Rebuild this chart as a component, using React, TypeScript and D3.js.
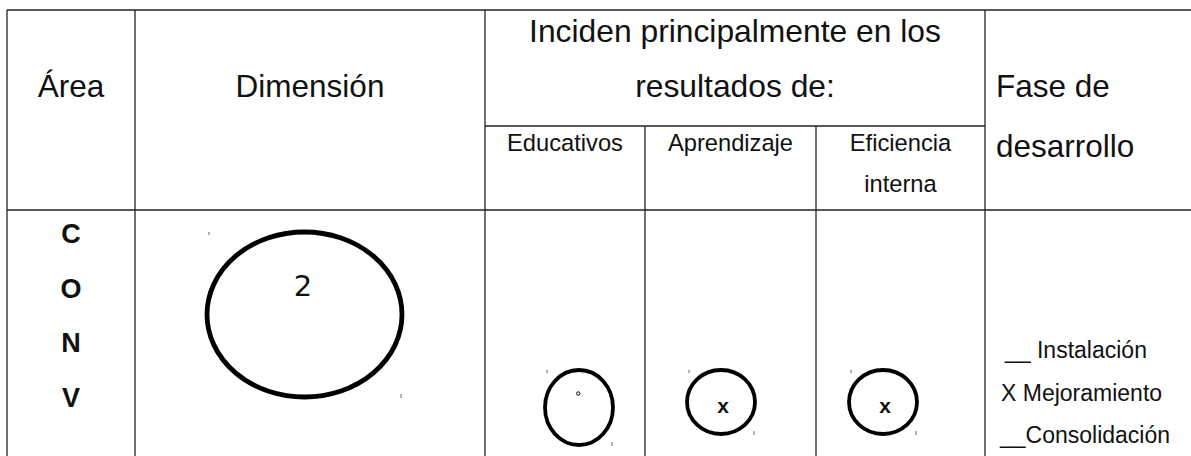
import { useEffect, useRef } from "react";
import * as d3 from "d3";

// table content
const headerLabels = ["Área", "Dimensión"];
const groupTitle = ["Inciden principalmente en los", "resultados de:"];
const subColumns = [["Educativos"], ["Aprendizaje"], ["Eficiencia", "interna"]];
const phaseTitle = ["Fase de", "desarrollo"];
const areaLetters = ["C", "O", "N", "V"];
const dimensionLabel = "2";
const cellMarks = ["°", "x", "x"];
const phases = ["__ Instalación", "X Mejoramiento", "__Consolidación"];

const W = 1191;
const H = 456;

export default function App() {
    const svgRef = useRef<SVGSVGElement>(null);

    useEffect(() => {
        if (!svgRef.current) return;
        const svg = d3.select(svgRef.current);
        svg.selectAll("*").remove();

        const font = "'Liberation Sans', Arial, sans-serif";
        const ink = "#111";
        const rule = "#222";

        // column and row edges
        const cols = [7, 135, 485, 645, 816, 985, W + 2];
        const top = 10, subTop = 126, headBottom = 210, bottom = H + 2;
        const mid = (i: number) => (cols[i] + cols[i + 1]) / 2;

        const grid = svg.append("g").attr("stroke", rule).attr("stroke-width", 1.3).attr("fill", "none");
        grid.append("line").attr("x1", cols[0]).attr("x2", cols[6]).attr("y1", top).attr("y2", top);
        grid.append("line").attr("x1", cols[0]).attr("x2", cols[6]).attr("y1", headBottom).attr("y2", headBottom);
        grid.append("line").attr("x1", cols[2]).attr("x2", cols[5]).attr("y1", subTop).attr("y2", subTop);
        [0, 1, 2, 5].forEach(i => {
            grid.append("line").attr("x1", cols[i]).attr("x2", cols[i]).attr("y1", top).attr("y2", bottom);
        });
        [3, 4].forEach(i => {
            grid.append("line").attr("x1", cols[i]).attr("x2", cols[i]).attr("y1", subTop).attr("y2", bottom);
        });

        const text = svg.append("g").attr("font-family", font).attr("fill", ink);

        // header
        headerLabels.forEach((label, i) => {
            text.append("text").attr("x", mid(i)).attr("y", 97)
                .attr("text-anchor", "middle").attr("font-size", 31.5).text(label);
        });

        const titleY = d3.scalePoint<number>().domain(groupTitle.map((_, i) => i)).range([42, 97]);
        groupTitle.forEach((line, i) => {
            text.append("text").attr("x", (cols[2] + cols[5]) / 2).attr("y", titleY(i)!)
                .attr("text-anchor", "middle").attr("font-size", 31.8).text(line);
        });

        subColumns.forEach((lines, i) => {
            lines.forEach((line, j) => {
                text.append("text").attr("x", mid(i + 2)).attr("y", 151 + j * 41)
                    .attr("text-anchor", "middle").attr("font-size", 23.7).text(line);
            });
        });

        const phaseY = d3.scalePoint<number>().domain(phaseTitle.map((_, i) => i)).range([97, 157]);
        phaseTitle.forEach((line, i) => {
            text.append("text").attr("x", 996).attr("y", phaseY(i)!)
                .attr("font-size", 31.5).text(line);
        });

        // body: area letters
        const letterY = d3.scalePoint<string>().domain(areaLetters).range([243, 407]);
        areaLetters.forEach(l => {
            text.append("text").attr("x", mid(0)).attr("y", letterY(l)!)
                .attr("text-anchor", "middle").attr("font-size", 27).attr("font-weight", "bold").text(l);
        });

        const shapes = svg.append("g");
        const drawEllipse = (cx: number, cy: number, rx: number, ry: number, sw: number) => {
            shapes.append("ellipse").attr("cx", cx).attr("cy", cy).attr("rx", rx).attr("ry", ry)
                .attr("fill", "none").attr("stroke", "#000").attr("stroke-width", sw);
            shapes.append("line").attr("x1", cx - rx + 2).attr("x2", cx - rx + 2)
                .attr("y1", cy - ry).attr("y2", cy - ry + 3).attr("stroke", "#666").attr("stroke-width", 1);
            shapes.append("line").attr("x1", cx + rx - 1).attr("x2", cx + rx - 1)
                .attr("y1", cy + ry - 3).attr("y2", cy + ry + 1).attr("stroke", "#666").attr("stroke-width", 1);
        };

        // dimension ellipse
        const bigCx = mid(1) - 5.5, bigCy = 314.5;
        drawEllipse(bigCx, bigCy, 97.5, 82.5, 4.8);
        text.append("text").attr("x", bigCx - 1.5).attr("y", bigCy - 18.5)
            .attr("text-anchor", "middle").attr("font-family", "'DejaVu Sans', sans-serif")
            .attr("font-size", 29).text(dimensionLabel);

        // result cells
        const cellGeom = [
            { dx: 14, cy: 407.5, rx: 34, ry: 37.5 },
            { dx: -9.5, cy: 402, rx: 34, ry: 32 },
            { dx: -17.5, cy: 402, rx: 34, ry: 32 },
        ];
        cellMarks.forEach((m, i) => {
            const g = cellGeom[i];
            const cx = mid(i + 2) + g.dx;
            drawEllipse(cx, g.cy, g.rx, g.ry, 3.8);
            if (m === "°") {
                shapes.append("circle").attr("cx", cx - 0.7).attr("cy", g.cy - 14).attr("r", 1.7)
                    .attr("fill", "none").attr("stroke", "#000").attr("stroke-width", 1);
            } else {
                text.append("text").attr("x", cx + 2).attr("y", g.cy + 10.7)
                    .attr("text-anchor", "middle").attr("font-size", 21).attr("font-weight", "bold").text(m);
            }
        });

        // phases
        const phaseRowY = d3.scalePoint<string>().domain(phases).range([358, 443]);
        const phaseX = [1005, 1001, 1000];
        phases.forEach((p, i) => {
            text.append("text").attr("x", phaseX[i]).attr("y", phaseRowY(p)!)
                .attr("font-size", 23).text(p);
        });
    }, []);

    return (
        <svg
            ref={svgRef}
            width={W}
            height={H}
            style={{ position: "absolute", left: 0, top: 0, background: "#fff", display: "block" }}
        />
    );
}
